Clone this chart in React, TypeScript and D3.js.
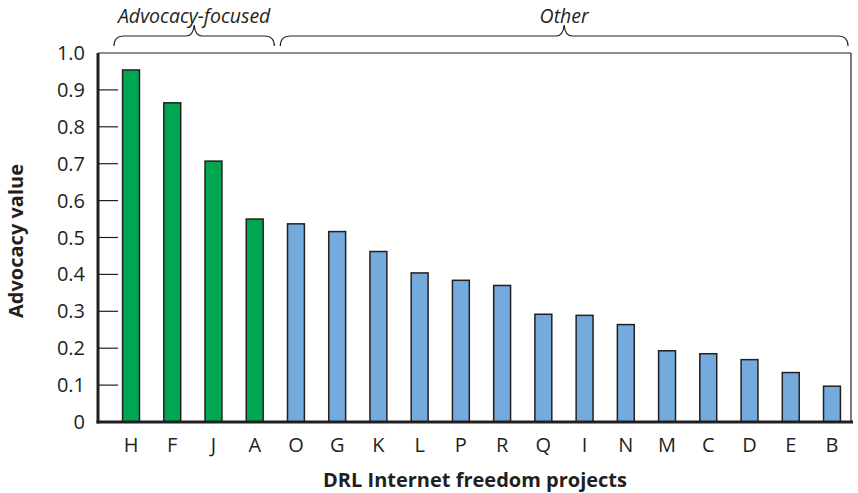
import React from "react";
import * as d3 from "d3";

const categories = ["H", "F", "J", "A", "O", "G", "K", "L", "P", "R", "Q", "I", "N", "M", "C", "D", "E", "B"];
const values = [0.954, 0.865, 0.707, 0.55, 0.537, 0.516, 0.462, 0.404, 0.384, 0.37, 0.292, 0.289, 0.264, 0.193, 0.185, 0.169, 0.134, 0.097];
const groups = ["Advocacy", "Advocacy", "Advocacy", "Advocacy", "Other", "Other", "Other", "Other", "Other", "Other", "Other", "Other", "Other", "Other", "Other", "Other", "Other", "Other"];
const yTicks = [0, 0.1, 0.2, 0.3, 0.4, 0.5, 0.6, 0.7, 0.8, 0.9, 1.0];
const groupLabels = ["Advocacy-focused", "Other"];

const W = 858, H = 493;
const left = 98, right = 851, top = 53, bottom = 422;
const font = "'Open Sans', 'Noto Sans', sans-serif";
const fs = 20;

function brace(x1: number, x2: number) {
  const xm = (x1 + x2) / 2;
  const yt = 46, yl = 36, yp = 25;
  return `M${x1},${yt} Q${x1},${yl} ${x1 + 10},${yl} L${xm - 8},${yl} Q${xm - 1},${yl} ${xm},${yp} Q${xm + 1},${yl} ${xm + 8},${yl} L${x2 - 10},${yl} Q${x2},${yl} ${x2},${yt}`;
}

export default function App() {
  const x = d3.scaleBand<string>().domain(categories).range([110.4, 852.6]).paddingInner(0.59).paddingOuter(0.295);
  const y = d3.scaleLinear().domain([0, 1]).range([bottom, top]);
  const bw = x.bandwidth();
  const cx = (c: string) => (x(c) as number) + bw / 2;
  const lastAdv = categories[groups.lastIndexOf("Advocacy")];
  const firstOther = categories[groups.indexOf("Other")];
  const mid = (cx(lastAdv) + cx(firstOther)) / 2;
  const advRange: [number, number] = [cx(categories[0]) - 17, mid - 1];
  const othRange: [number, number] = [mid + 5, cx(categories[categories.length - 1]) + 16];

  return (
    <svg width={W} height={H} style={{ position: "absolute", left: 0, top: 0 }}>
      <rect width={W} height={H} fill="#fff" />
      <line x1={left} x2={right} y1={top} y2={top} stroke="#231f20" strokeWidth={1.2} />
      <line x1={right} x2={right} y1={top} y2={bottom} stroke="#231f20" strokeWidth={1.2} />
      {yTicks.map((t) => (
        <g key={t}>
          {t > 0 && t < 1 && <line x1={left} x2={118} y1={y(t)} y2={y(t)} stroke="#231f20" strokeWidth={1.2} />}
          <text x={85} y={y(t)} dy="0.35em" textAnchor="end" fontFamily={font} fontSize={fs} fill="#231f20">
            {t === 0 ? "0" : d3.format(".1f")(t)}
          </text>
        </g>
      ))}
      {categories.map((c, i) => (
        <rect
          key={c}
          x={x(c)}
          y={y(values[i])}
          width={bw}
          height={bottom - y(values[i])}
          fill={groups[i] === "Advocacy" ? "#00a651" : "#74aadc"}
          stroke="#231f20"
          strokeWidth={1.5}
        />
      ))}
      <line x1={left} x2={left} y1={top} y2={bottom + 1.5} stroke="#231f20" strokeWidth={3} />
      <line x1={left - 1.5} x2={right + 2} y1={bottom} y2={bottom} stroke="#231f20" strokeWidth={3} />
      {categories.map((c) => (
        <text key={c} x={cx(c)} y={445} dy="0.35em" textAnchor="middle" fontFamily={font} fontSize={fs} fill="#231f20">
          {c}
        </text>
      ))}
      <text x={475} y={480} dy="0.35em" textAnchor="middle" fontFamily={font} fontSize={fs} fontWeight="bold" fill="#231f20">
        DRL Internet freedom projects
      </text>
      <text transform={`translate(16,241) rotate(-90)`} dy="0.35em" textAnchor="middle" fontFamily={font} fontSize={fs} fontWeight="bold" fill="#231f20">
        Advocacy value
      </text>
      <path d={brace(advRange[0], advRange[1])} fill="none" stroke="#231f20" strokeWidth={1.2} />
      <path d={brace(othRange[0], othRange[1])} fill="none" stroke="#231f20" strokeWidth={1.2} />
      <text x={(advRange[0] + advRange[1]) / 2} y={16} dy="0.35em" textAnchor="middle" fontFamily={font} fontSize={19.5} fontStyle="italic" fill="#231f20">
        {groupLabels[0]}
      </text>
      <text x={(othRange[0] + othRange[1]) / 2} y={16} dy="0.35em" textAnchor="middle" fontFamily={font} fontSize={19.5} fontStyle="italic" fill="#231f20">
        {groupLabels[1]}
      </text>
    </svg>
  );
}
